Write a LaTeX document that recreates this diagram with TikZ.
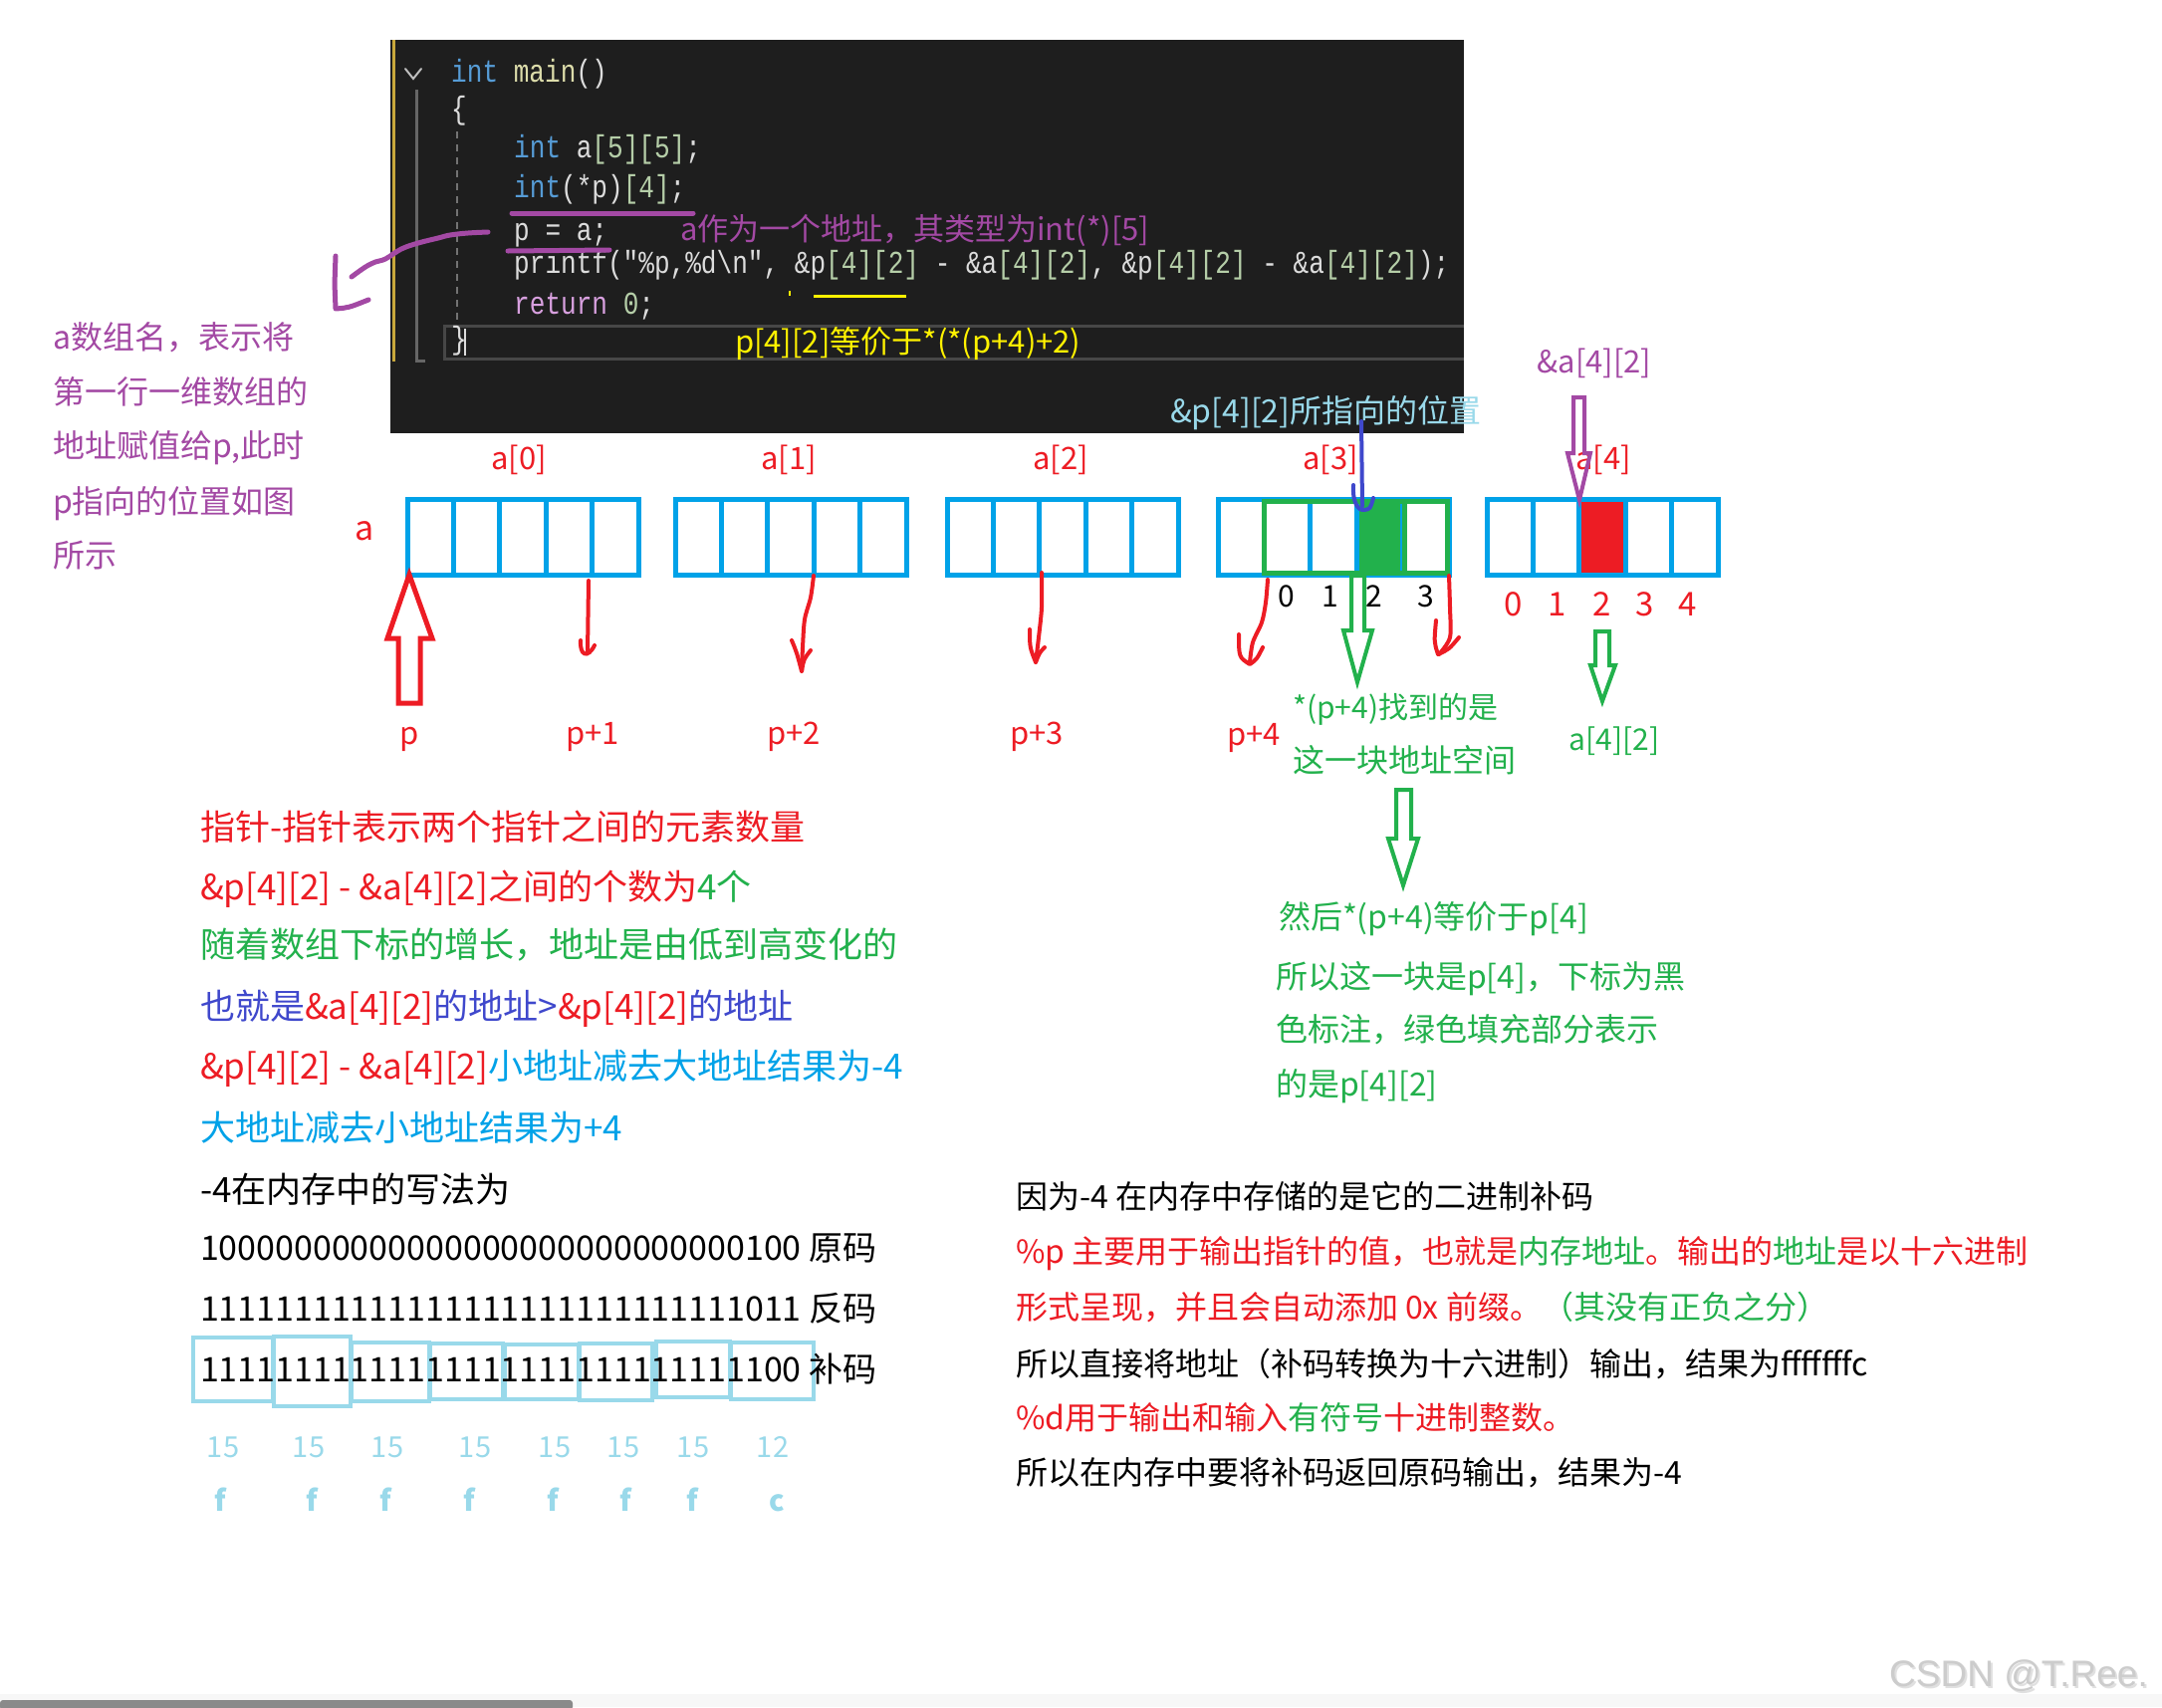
\documentclass[tikz,border=0pt]{standalone}
\usepackage{fontspec}
\setmainfont{Noto Sans CJK SC}
\newfontfamily\codefont{Liberation Mono}[FakeStretch=0.815]
\newfontfamily\wmfont{Liberation Sans}
\definecolor{rd}{HTML}{ED1C24}
\definecolor{gn}{HTML}{22B14C}
\definecolor{bl}{HTML}{3F48CC}
\definecolor{lb}{HTML}{00A2E8}
\definecolor{cy}{HTML}{00A2E8}
\definecolor{pb}{HTML}{99D9EA}
\definecolor{pu}{HTML}{A349A4}
\definecolor{yl}{HTML}{FFF200}
\definecolor{panel}{HTML}{1E1E1E}
\definecolor{kw}{HTML}{569CD6}
\definecolor{fn}{HTML}{DCDCAA}
\definecolor{ctx}{HTML}{DCDCDC}
\definecolor{num}{HTML}{B5CEA8}
\definecolor{ret}{HTML}{D8A0DF}
\definecolor{gold}{HTML}{C8A83C}
\tikzset{
  tb/.style={inner sep=0pt, outer sep=0pt, text depth=0pt, anchor=west},
  tc/.style={inner sep=0pt, outer sep=0pt, text depth=0pt, anchor=center},
  z35/.style={font=\fontsize{35}{42}\selectfont, text height=26.6pt},
  z34/.style={font=\fontsize{34}{40}\selectfont, text height=25.8pt},
  z33/.style={font=\fontsize{33}{40}\selectfont, text height=25.1pt},
  z32/.style={font=\fontsize{32}{38}\selectfont, text height=24.3pt},
  z31/.style={font=\fontsize{31}{37}\selectfont, text height=23.6pt},
  z30/.style={font=\fontsize{30}{36}\selectfont, text height=22.8pt},
  z29/.style={font=\fontsize{29}{35}\selectfont, text height=22pt},
  z28/.style={font=\fontsize{28}{34}\selectfont, text height=21.3pt},
  cd/.style={font=\codefont\fontsize{32}{38}\selectfont, inner sep=0pt, anchor=base west, text=ctx},
  boxline/.style={cy, line width=5},
  scrib/.style={line width=4, line cap=round, line join=round},
  hollow/.style={line width=4, line join=miter},
}
\begin{document}
\begin{tikzpicture}[x=1pt,y=-1pt]
\useasboundingbox (0,0) rectangle (2171,1714);
\fill[white] (0,0) rectangle (2171,1714);

% ---------- code panel ----------
\fill[panel] (392,40) rectangle (1470,435);
\draw[gold, line width=3] (395,40) -- (395,363);
\draw[black!60!white, line width=3] (418,90) -- (418,362) -- (427,362);
\draw[black!25!white, line width=2, line cap=round] (407,69) -- (415,79) -- (423,69);
\draw[black!55!white, line width=1.5, dash pattern=on 7pt off 6pt] (459,132) -- (459,322);
\draw[black!72!white, line width=3] (1470,327) -- (446,327) -- (446,360) -- (1470,360);
\draw[ctx, line width=1.5] (467,330) -- (467,357);

\node[cd] (c1) at (453,82) {{\color{kw}int} {\color{fn}main}()};
\node[cd] (c2) at (453,119) {\{};
\node[cd] (c3) at (516,158) {{\color{kw}int} a{\color{num}[5][5]};};
\node[cd] (c4) at (516,198) {{\color{kw}int}(*p){\color{num}[4]};};
\node[cd] (c5) at (516,241) {p = a;};
\node[cd] (c6) at (516,274) {printf("\%p,\%d\textbackslash n", \&p{\color{num}[4][2]} - \&a{\color{num}[4][2]}, \&p{\color{num}[4][2]} - \&a{\color{num}[4][2]});};
\node[cd] (c7) at (516,315) {{\color{ret}return} {\color{num}0};};
\node[cd] (c8) at (453,350) {\}};

% annotations in panel
\draw[pu, line width=5, line cap=round] (514,214) -- (696,214);
\draw[pu, line width=5, line cap=round] (510,252) -- (612,251);
\draw[pu, line width=5, line cap=round, line join=round]
  plot[smooth, tension=0.6] coordinates {(490,233) (470,234) (452,236) (440,239) (420,244) (403,250) (387,260) (377,263) (367,268) (353,278)};
\draw[pu, line width=5, line cap=round, line join=round] (337,257) -- (336,285) -- (337,310) .. controls (350,309) .. (370,301);
\node[tb,z31,text=pu] (n1) at (683,230) {a作为一个地址，其类型为int(*)[5]};
\draw[yl, line width=3] (817,297) -- (910,297);
\draw[yl, line width=2] (793,292) -- (793,297);
\node[tb,z31,text=yl] (n2) at (738,343) {p[4][2]等价于*(*(p+4)+2)};
\node[tb,z32,text=pb] (n3) at (1175,412) {\&p[4][2]所指向的位置};

% ---------- left purple note ----------
\node[tb,z32,text=pu] (l1) at (53,338) {a数组名，表示将};
\node[tb,z32,text=pu] (l2) at (53,393) {第一行一维数组的};
\node[tb,z32,text=pu] (l3) at (53,447) {地址赋值给p,此时};
\node[tb,z32,text=pu] (l4) at (53,503) {p指向的位置如图};
\node[tb,z32,text=pu] (l5) at (53,557) {所示};

% ---------- arrays ----------
\node[tc,z34,text=rd] (la) at (366,530) {a};
\foreach \x/\t in {521/0, 792/1, 1065/2, 1336/3, 1610/4}
  \node[tc,z31,text=rd] (ar\t) at (\x,460) {a[\t]};

\fill[rd] (1586,501) rectangle (1632,577);
\fill[gn] (1362,501) rectangle (1410,577);
\foreach \L in {409,678,951,1223,1493} {
  \draw[boxline] (\L,501) rectangle ++(232,76);
  \foreach \k in {1,...,4} \draw[boxline] ({\L+46.4*\k},501) -- ++(0,76);
}
\draw[gn, line width=5] (1410,503) -- (1410,575);
\draw[gn, line width=5] (1269,503) rectangle (1453,575);

\foreach \x/\t in {1292/0, 1336/1, 1380/2, 1432/3}
  \node[tc,z30,text=black] (b\t) at (\x,598) {\t};
\foreach \x/\t in {1520/0, 1564/1, 1609/2, 1652/3, 1695/4}
  \node[tc,z33,text=rd] (r\t) at (\x,606) {\t};

% p labels
\node[tc,z31,text=rd] (p0) at (411,736) {p};
\node[tc,z31,text=rd] (p1) at (595,736) {p+1};
\node[tc,z31,text=rd] (p2) at (797,736) {p+2};
\node[tc,z31,text=rd] (p3) at (1041,736) {p+3};
\node[tc,z31,text=rd] (p4) at (1259,737) {p+4};

% red hollow up arrow
\draw[rd, hollow, line width=5] (400,706) -- (400,641) -- (389,641) -- (411,577) -- (434,641) -- (422,641) -- (422,706) -- cycle;

% red scribble arrows
\draw[rd, scrib] (591,583) -- (590,655);
\draw[rd, scrib] (583,643) .. controls (582,658) and (590,662) .. (597,648);
\draw[rd, scrib] plot[smooth] coordinates {(817,578) (814,600) (808,622) (806,650) (805,674)};
\draw[rd, scrib] (795,643) .. controls (800,655) .. (805,674) .. controls (807,662) .. (814,653);
\draw[rd, scrib] plot[smooth] coordinates {(1046,575) (1046,610) (1043,640) (1040,665)};
\draw[rd, scrib] (1034,632) .. controls (1034,650) .. (1040,665) .. controls (1044,655) .. (1049,650);
\draw[rd, scrib] plot[smooth] coordinates {(1273,582) (1271,605) (1267,625) (1258,645) (1255,665)};
\draw[rd, scrib] (1244,637) .. controls (1244,660) .. (1255,667) .. controls (1262,662) .. (1268,650);
\draw[rd, scrib] plot[smooth] coordinates {(1455,578) (1456,610) (1456,640) (1445,657)};
\draw[rd, scrib] (1442,623) .. controls (1440,645) .. (1444,657) .. controls (1455,652) .. (1465,640);

% blue pointer from label
\draw[bl, scrib] (1367,423) -- (1368,508);
\draw[bl, scrib] (1359,487) .. controls (1358,505) and (1364,513) .. (1370,512) .. controls (1376,511) .. (1379,500);

% purple hollow arrow
\node[tc,z31,text=pu] (aa) at (1601,363) {\&a[4][2]};
\draw[pu, hollow] (1580,399) -- (1591,399) -- (1591,455) -- (1597,455) -- (1586,502) -- (1574,455) -- (1580,455) -- cycle;

% green hollow arrows
\draw[gn, hollow] (1357,578) -- (1370,578) -- (1370,633) -- (1378,633) -- (1363,685) -- (1349,633) -- (1357,633) -- cycle;
\draw[gn, hollow] (1602,634) -- (1616,634) -- (1616,668) -- (1622,668) -- (1609,704) -- (1597,668) -- (1602,668) -- cycle;
\draw[gn, hollow] (1402,793) -- (1417,793) -- (1417,842) -- (1424,842) -- (1409,889) -- (1394,842) -- (1402,842) -- cycle;

\node[tb,z30,text=gn] (g5) at (1298,710) {*(p+4)找到的是};
\node[tb,z32,text=gn] (g6) at (1298,763) {这一块地址空间};
\node[tc,z30,text=gn] (g7) at (1621,742) {a[4][2]};
\node[tb,z32,text=gn] (g1) at (1284,920) {然后*(p+4)等价于p[4]};
\node[tb,z32,text=gn] (g2) at (1281,980) {所以这一块是p[4]，下标为黑};
\node[tb,z32,text=gn] (g3) at (1281,1033) {色标注，绿色填充部分表示};
\node[tb,z32,text=gn] (g4) at (1281,1088) {的是p[4][2]};

% ---------- left main text ----------
\node[tb,z35,text=rd] (m1) at (201,830) {指针-指针表示两个指针之间的元素数量};
\node[tb,z35,text=rd] (m2) at (201,890) {\&p[4][2] - \&a[4][2]之间的个数为{\color{gn}4个}};
\node[tb,z35,text=gn] (m3) at (201,948) {随着数组下标的增长，地址是由低到高变化的};
\node[tb,z35,text=bl] (m4) at (201,1010) {也就是{\color{rd}\&a[4][2]}的地址>{\color{rd}\&p[4][2]}的地址};
\node[tb,z35,text=rd] (m5) at (201,1070) {\&p[4][2] - \&a[4][2]{\color{lb}小地址减去大地址结果为-4}};
\node[tb,z35,text=lb] (m6) at (201,1132) {大地址减去小地址结果为+4};
\node[tb,z35,text=black] (m7) at (201,1194) {-4在内存中的写法为};
\node[tb,z34,text=black] (m8) at (201,1253) {10000000000000000000000000000100 原码};
\node[tb,z34,text=black] (m9) at (201,1314) {11111111111111111111111111111011 反码};
\foreach \a/\b/\c/\d in {194/1343/274/1407, 275/1342/352/1412, 353/1348/431/1407, 432/1349/505/1405, 507/1350/581/1405, 582/1349/655/1406, 659/1347/733/1403, 734/1348/817/1405}
  \draw[pb, line width=4] (\a,\b) rectangle (\c,\d);
\node[tb,z34,text=black] (m10) at (201,1375) {11111111111111111111111111111100 补码};

\foreach \x in {224,310,389,477,557,626,696}
  \node[tc,z29,text=pb] at (\x,1452) {15};
\node[tc,z29,text=pb] at (776,1452) {12};
\foreach \x in {221,313,387,471,555,628,695}
  \node[tc,z29,text=pb,font=\fontsize{29}{35}\selectfont\bfseries] at (\x,1506) {f};
\node[tc,z29,text=pb,font=\fontsize{29}{35}\selectfont\bfseries] at (780,1506) {c};

% ---------- right text ----------
\node[tb,z32,text=black] (q1) at (1020,1201) {因为-4 在内存中存储的是它的二进制补码};
\node[tb,z32,text=rd] (q2) at (1020,1256) {\%p 主要用于输出指针的值，也就是{\color{gn}内存地址}。输出的{\color{gn}地址}是以十六进制};
\node[tb,z32,text=rd] (q3) at (1020,1312) {形式呈现，并且会自动添加 0x 前缀。{\color{gn}（其没有正负之分）}};
\node[tb,z32,text=black] (q4) at (1020,1369) {所以直接将地址（补码转换为十六进制）输出，结果为fffffffc};
\node[tb,z32,text=rd] (q5) at (1020,1423) {\%d用于输出和输入{\color{gn}有符号}十进制整数。};
\node[tb,z32,text=black] (q6) at (1020,1478) {所以在内存中要将补码返回原码输出，结果为-4};

% ---------- watermark and scrollbar ----------
\node[tc, font=\wmfont\fontsize{37}{44}\selectfont, text=black!12] at (2029,1682) {CSDN @T.Ree.};
\node[tc, font=\wmfont\fontsize{37}{44}\selectfont, text=black!20] (wm) at (2027,1680) {CSDN @T.Ree.};
\fill[black!3] (0,1701) rectangle (2171,1714);
\fill[black!46, rounded corners=3pt] (0,1707) rectangle (575,1717);
\end{tikzpicture}
\end{document}
